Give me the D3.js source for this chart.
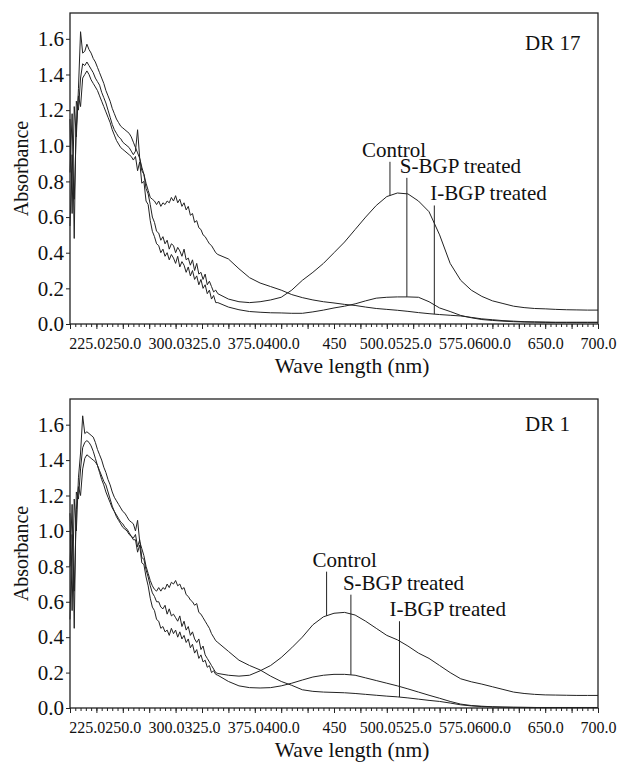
<!DOCTYPE html>
<html>
<head>
<meta charset="utf-8">
<title>DR 17 / DR 1 absorbance spectra</title>
<script src="https://d3js.org/d3.v7.min.js"></script>
<style>
  body { margin: 0; background: #fff; }
</style>
</head>
<body>
<svg id="chart" width="620" height="762"></svg>
<script>
// sampling grid (nm): 2 nm in the UV part, 10 nm in the visible part
const wavelengths = [
  200, 202, 204, 206, 208, 210, 212, 214, 216, 218, 220, 222, 224, 226, 228, 230, 232, 234, 236, 238,
  240, 242, 244, 246, 248, 250, 252, 254, 256, 258, 260, 262, 264, 266, 268, 270, 272, 274, 276, 278,
  280, 282, 284, 286, 288, 290, 292, 294, 296, 298, 300, 302, 304, 306, 308, 310, 312, 314, 316, 318,
  320, 322, 324, 326, 328, 330, 332, 334, 336, 338,
  340, 350, 360, 370, 380, 390, 400, 410, 420, 430, 440, 450, 460, 470, 480, 490, 500, 510, 520, 530,
  540, 550, 560, 570, 580, 590, 600, 610, 620, 630, 640, 650, 660, 670, 680, 690, 700
];

// DR 17
const dr17Control = [
  0.85, 1.18, 0.48, 1.25, 1.20, 1.38, 1.46, 1.45, 1.47, 1.45, 1.43, 1.41, 1.38, 1.36, 1.34, 1.30, 1.27, 1.24, 1.20, 1.16,
  1.12, 1.09, 1.07, 1.05, 1.04, 1.02, 1.01, 1.00, 0.99, 0.97, 0.95, 0.97, 1.09, 0.93, 0.86, 0.84, 0.76, 0.73, 0.67, 0.60,
  0.57, 0.52, 0.51, 0.47, 0.49, 0.45, 0.47, 0.42, 0.45, 0.44, 0.40, 0.43, 0.41, 0.38, 0.42, 0.36, 0.37, 0.33, 0.36, 0.30,
  0.34, 0.28, 0.29, 0.25, 0.28, 0.22, 0.24, 0.21, 0.18, 0.19,
  0.17, 0.14, 0.125, 0.12, 0.125, 0.135, 0.15, 0.19, 0.245, 0.29, 0.34, 0.40, 0.46, 0.53, 0.60, 0.665, 0.715, 0.735, 0.73, 0.69,
  0.63, 0.50, 0.34, 0.245, 0.19, 0.155, 0.13, 0.115, 0.10, 0.092, 0.087, 0.085, 0.082, 0.08, 0.079, 0.078, 0.078
];
const dr17SBGP = [
  0.55, 0.95, 0.70, 1.10, 1.28, 1.22, 1.38, 1.40, 1.42, 1.40, 1.37, 1.35, 1.33, 1.31, 1.28, 1.25, 1.22, 1.19, 1.16, 1.13,
  1.09, 1.06, 1.03, 1.01, 0.99, 0.98, 0.97, 0.96, 0.95, 0.94, 0.92, 0.94, 0.86, 0.91, 0.79, 0.80, 0.69, 0.67, 0.58, 0.52,
  0.49, 0.45, 0.44, 0.40, 0.42, 0.38, 0.40, 0.36, 0.39, 0.37, 0.34, 0.38, 0.32, 0.35, 0.33, 0.29, 0.32, 0.27, 0.30, 0.25,
  0.27, 0.22, 0.25, 0.20, 0.22, 0.17, 0.19, 0.14, 0.16, 0.12,
  0.12, 0.095, 0.08, 0.07, 0.066, 0.063, 0.062, 0.06, 0.06, 0.068, 0.078, 0.09, 0.10, 0.113, 0.13, 0.145, 0.15, 0.152, 0.152, 0.15,
  0.125, 0.09, 0.07, 0.048, 0.035, 0.025, 0.02, 0.016, 0.013, 0.011, 0.01, 0.009, 0.008, 0.008, 0.008, 0.008, 0.008
];
const dr17IBGP = [
  1.15, 0.62, 1.22, 1.05, 1.32, 1.64, 1.52, 1.53, 1.57, 1.54, 1.52, 1.49, 1.47, 1.44, 1.41, 1.38, 1.35, 1.31, 1.28, 1.25,
  1.21, 1.18, 1.15, 1.13, 1.11, 1.10, 1.09, 1.08, 1.07, 1.05, 1.02, 0.99, 0.96, 0.93, 0.88, 0.84, 0.79, 0.75, 0.71, 0.70,
  0.69, 0.67, 0.69, 0.66, 0.68, 0.67, 0.69, 0.68, 0.71, 0.69, 0.72, 0.68, 0.70, 0.66, 0.68, 0.64, 0.66, 0.61, 0.62, 0.57,
  0.58, 0.54, 0.53, 0.50, 0.49, 0.47, 0.45, 0.44, 0.42, 0.40,
  0.39, 0.365, 0.31, 0.26, 0.23, 0.21, 0.19, 0.165, 0.148, 0.135, 0.125, 0.118, 0.11, 0.104, 0.095, 0.087, 0.082, 0.077, 0.071, 0.064,
  0.058, 0.053, 0.049, 0.045, 0.037, 0.029, 0.024, 0.019, 0.016, 0.013, 0.012, 0.011, 0.01, 0.01, 0.01, 0.01, 0.01
];

// DR 1
const dr1Control = [
  0.80, 1.15, 0.45, 1.22, 1.18, 1.35, 1.47, 1.50, 1.51, 1.50, 1.48, 1.45, 1.41, 1.37, 1.33, 1.29, 1.26, 1.22, 1.19, 1.16,
  1.13, 1.11, 1.09, 1.07, 1.05, 1.04, 1.02, 1.01, 0.99, 0.97, 0.96, 0.98, 0.91, 0.95, 0.85, 0.84, 0.78, 0.74, 0.69, 0.65,
  0.63, 0.60, 0.60, 0.57, 0.56, 0.58, 0.53, 0.56, 0.52, 0.53, 0.51, 0.49, 0.52, 0.46, 0.49, 0.44, 0.46, 0.41, 0.43, 0.39,
  0.37, 0.39, 0.33, 0.35, 0.30, 0.28, 0.26, 0.24, 0.22, 0.20,
  0.195, 0.185, 0.18, 0.185, 0.21, 0.24, 0.285, 0.34, 0.40, 0.47, 0.515, 0.535, 0.54, 0.525, 0.49, 0.45, 0.41, 0.385, 0.35, 0.31,
  0.28, 0.24, 0.20, 0.165, 0.148, 0.135, 0.12, 0.105, 0.09, 0.082, 0.077, 0.074, 0.073, 0.072, 0.071, 0.071, 0.071
];
const dr1SBGP = [
  0.50, 0.98, 0.66, 1.12, 1.25, 1.20, 1.35, 1.41, 1.43, 1.42, 1.41, 1.40, 1.39, 1.37, 1.34, 1.31, 1.28, 1.26, 1.22, 1.18,
  1.14, 1.11, 1.08, 1.06, 1.04, 1.02, 1.01, 1.00, 0.98, 0.97, 0.95, 0.95, 0.88, 0.92, 0.82, 0.81, 0.74, 0.69, 0.62, 0.57,
  0.55, 0.50, 0.49, 0.45, 0.46, 0.43, 0.44, 0.41, 0.45, 0.42, 0.44, 0.40, 0.43, 0.39, 0.41, 0.37, 0.39, 0.34, 0.36, 0.31,
  0.33, 0.28, 0.30, 0.26, 0.27, 0.23, 0.24, 0.20, 0.21, 0.19,
  0.185, 0.15, 0.125, 0.115, 0.113, 0.115, 0.125, 0.14, 0.158, 0.175, 0.185, 0.19, 0.19, 0.185, 0.17, 0.155, 0.14, 0.125, 0.108, 0.09,
  0.072, 0.055, 0.037, 0.022, 0.014, 0.01, 0.007, 0.005, 0.004, 0.003, 0.003, 0.002, 0.002, 0.002, 0.002, 0.002, 0.002
];
const dr1IBGP = [
  1.10, 0.55, 1.18, 1.00, 1.30, 1.44, 1.65, 1.55, 1.56, 1.55, 1.54, 1.53, 1.50, 1.46, 1.43, 1.40, 1.36, 1.33, 1.29, 1.26,
  1.22, 1.19, 1.17, 1.15, 1.13, 1.11, 1.10, 1.08, 1.06, 1.05, 1.04, 1.00, 1.06, 0.94, 0.90, 0.86, 0.80, 0.76, 0.72, 0.69,
  0.67, 0.66, 0.68, 0.66, 0.68, 0.67, 0.70, 0.68, 0.71, 0.70, 0.72, 0.69, 0.70, 0.67, 0.68, 0.64, 0.63, 0.61, 0.60, 0.58,
  0.59, 0.54, 0.53, 0.51, 0.49, 0.47, 0.45, 0.42, 0.40, 0.38,
  0.37, 0.32, 0.27, 0.24, 0.215, 0.18, 0.15, 0.128, 0.103, 0.094, 0.09, 0.088, 0.086, 0.082, 0.077, 0.072, 0.067, 0.063, 0.057, 0.05,
  0.043, 0.037, 0.028, 0.018, 0.012, 0.008, 0.006, 0.005, 0.004, 0.004, 0.003, 0.003, 0.003, 0.003, 0.003, 0.003, 0.003
];

const yTicks = [0, 0.2, 0.4, 0.6, 0.8, 1.0, 1.2, 1.4, 1.6];
const xTickText = ["225.0", "250.0", "300.0", "325.0", "375.0", "400.0", "450", "500.0", "525.0", "575.0", "600.0", "650.0", "700.0"];

// callouts: wavelength of the leader line and the absorbance where it starts
const dr17Notes = [
  { name: "Control", wave: 503, level: 0.91 },
  { name: "S-BGP treated", wave: 519, level: 0.82 },
  { name: "I-BGP treated", wave: 545, level: 0.665 }
];
const dr1Notes = [
  { name: "Control", wave: 443, level: 0.77 },
  { name: "S-BGP treated", wave: 466, level: 0.64 },
  { name: "I-BGP treated", wave: 512, level: 0.49 }
];

const panels = [
  { title: "DR 17", top: 13, bottom: 324, titleDy: 37,
    series: { "Control": dr17Control, "S-BGP treated": dr17SBGP, "I-BGP treated": dr17IBGP },
    notes: dr17Notes, noteDx: { "Control": -28, "S-BGP treated": -7, "I-BGP treated": -4 } },
  { title: "DR 1", top: 399, bottom: 708, titleDy: 32,
    series: { "Control": dr1Control, "S-BGP treated": dr1SBGP, "I-BGP treated": dr1IBGP },
    notes: dr1Notes, noteDx: { "Control": -14, "S-BGP treated": -8, "I-BGP treated": -10 } }
];

const svg = d3.select("#chart");
const left = 70, right = 598;
const ink = "#222";
const serif = '"Liberation Serif"';

function drawPanel(p) {
  const g = svg.append("g");
  const x = d3.scaleLinear().domain([200, 700]).range([left, right]);
  const y = d3.scaleLinear().domain([0, 1.745]).range([p.bottom, p.top]);

  // spectra
  const line = d3.line().x(d => x(d[0])).y(d => y(d[1]));
  Object.keys(p.series).forEach(name => {
    const pts = wavelengths.map((w, i) => [w, p.series[name][i]]);
    g.append("path").datum(pts)
      .attr("d", line)
      .attr("fill", "none")
      .attr("stroke", ink)
      .attr("stroke-width", 1)
      .attr("stroke-linejoin", "round");
  });

  // frame
  g.append("rect")
    .attr("x", left).attr("y", p.top)
    .attr("width", right - left).attr("height", p.bottom - p.top)
    .attr("fill", "none").attr("stroke", ink).attr("stroke-width", 1.3);

  // x ticks: minor every 5 nm, major every 25 nm
  const minor = g.append("g").attr("transform", `translate(0,${p.bottom})`)
    .call(d3.axisBottom(x).tickValues(d3.range(200, 701, 5)).tickSize(3).tickFormat(""));
  const major = g.append("g").attr("transform", `translate(0,${p.bottom})`)
    .call(d3.axisBottom(x).tickValues(d3.range(200, 701, 25)).tickSize(5).tickFormat(""));
  [minor, major].forEach(a => {
    a.select(".domain").remove();
    a.selectAll("line").attr("stroke", ink);
  });

  // x tick labels, pushed left where neighbours would overlap
  const vals = xTickText.map(parseFloat);
  const lab = g.append("g").attr("transform", `translate(0,${p.bottom})`)
    .call(d3.axisBottom(x).tickValues(vals).tickSize(0).tickPadding(14)
      .tickFormat((d, i) => xTickText[i]));
  lab.select(".domain").remove();
  lab.attr("font-family", null);
  const texts = lab.selectAll("text")
    .style("font-family", serif).attr("font-size", 16).attr("fill", "#111").nodes();
  const shift = vals.map(() => 0);
  for (let i = texts.length - 2; i >= 0; i--) {
    const wi = texts[i].getComputedTextLength(), wj = texts[i + 1].getComputedTextLength();
    const rightI = x(vals[i]) + shift[i] + wi / 2;
    const leftJ = x(vals[i + 1]) + shift[i + 1] - wj / 2;
    if (rightI > leftJ) shift[i] -= rightI - leftJ;
  }
  texts.forEach((t, i) => d3.select(t).attr("dx", shift[i]));

  // y axis
  const ya = g.append("g").attr("transform", `translate(${left},0)`)
    .call(d3.axisLeft(y).tickValues(yTicks).tickSize(4).tickPadding(2).tickFormat(d3.format(".1f")));
  ya.select(".domain").remove();
  ya.attr("font-family", null);
  ya.selectAll("line").attr("stroke", ink);
  ya.selectAll("text").style("font-family", serif).attr("font-size", 21).attr("fill", "#111");

  // axis titles
  g.append("text")
    .attr("transform", `translate(28,${(p.top + p.bottom) / 2}) rotate(-90)`)
    .attr("text-anchor", "middle").attr("font-size", 20)
    .text("Absorbance");
  g.append("text")
    .attr("x", (left + right) / 2 + 18).attr("y", p.bottom + 49)
    .attr("text-anchor", "middle").attr("font-size", 21.5)
    .text("Wave length (nm)");

  // panel title
  g.append("text")
    .attr("x", right - 73).attr("y", p.top + p.titleDy)
    .attr("font-size", 21)
    .text(p.title);

  // callouts
  const bis = d3.bisector(d => d).left;
  p.notes.forEach(n => {
    const s = p.series[n.name];
    const i = bis(wavelengths, n.wave);
    const t = (n.wave - wavelengths[i - 1]) / (wavelengths[i] - wavelengths[i - 1]);
    const v = s[i - 1] + t * (s[i] - s[i - 1]);
    g.append("line")
      .attr("x1", x(n.wave)).attr("x2", x(n.wave))
      .attr("y1", y(n.level)).attr("y2", y(v))
      .attr("stroke", ink).attr("stroke-width", 1);
    g.append("text")
      .attr("x", x(n.wave) + p.noteDx[n.name]).attr("y", y(n.level) - 5)
      .attr("font-size", 21)
      .text(n.name);
  });

  g.selectAll("text").style("font-family", serif).attr("fill", "#111");
}

panels.forEach(drawPanel);
</script>
</body>
</html>
